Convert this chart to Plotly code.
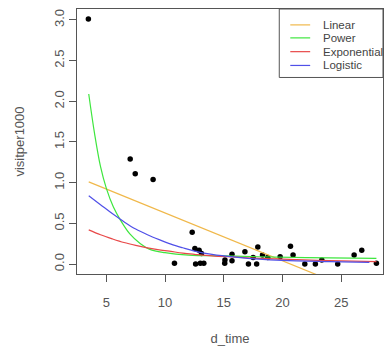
import plotly.graph_objects as go

# observed points
d_time = [3.47, 7.03, 7.46, 8.98, 10.8, 12.31, 12.54, 12.9, 13.1, 12.6, 13.0, 13.3,
          15.08, 15.1, 15.7, 15.7, 16.8, 17.1, 17.5, 17.9, 17.8, 18.3, 18.75, 19.8,
          20.68, 20.9, 21.9, 22.8, 23.35, 24.7, 26.1, 26.75, 28.0]
visitper1000 = [3.01, 1.29, 1.11, 1.04, 0.01, 0.39, 0.19, 0.17, 0.13, 0.0, 0.01, 0.01,
                0.01, 0.05, 0.12, 0.04, 0.15, 0.0, 0.08, 0.21, 0.0, 0.11, 0.08, 0.09,
                0.22, 0.11, 0.0, 0.0, 0.05, 0.0, 0.11, 0.17, 0.01]

# fitted curves
lin_x = [3.5, 28.0]
lin_y = [1.01, -0.43]

pow_x = [3.5, 4.0, 4.5, 5.0, 5.6, 6.2, 7.0, 7.9, 8.7, 10.0, 12.0, 15.0, 18.0, 22.0, 28.0]
pow_y = [2.09, 1.6, 1.2, 0.93, 0.70, 0.54, 0.37, 0.25, 0.18, 0.14, 0.11, 0.10, 0.09, 0.08, 0.07]

exp_x = [3.5, 4.5, 5.5, 6.5, 7.5, 8.5, 9.5, 10.5, 11.5, 12.5, 14.0, 16.0, 18.0, 20.0, 23.0, 28.0]
exp_y = [0.42, 0.36, 0.31, 0.265, 0.23, 0.2, 0.175, 0.155, 0.135, 0.12, 0.10, 0.085, 0.07, 0.06, 0.045, 0.03]

log_x = [3.5, 4.5, 5.5, 6.5, 7.5, 8.5, 9.5, 10.5, 11.5, 12.5, 14.0, 16.0, 18.0, 20.0, 24.0, 27.4]
log_y = [0.84, 0.73, 0.62, 0.52, 0.43, 0.36, 0.30, 0.245, 0.20, 0.16, 0.12, 0.085, 0.06, 0.045, 0.03, 0.02]

series_names = ["Linear", "Power", "Exponential", "Logistic"]
series_colors = ["#f0b84a", "#3ee63e", "#e84848", "#5050e8"]

x_ticks = [5, 10, 15, 20, 25]
y_ticks = [0.0, 0.5, 1.0, 1.5, 2.0, 2.5, 3.0]

font = "Liberation Sans, Arial, sans-serif"

fig = go.Figure()
fig.add_trace(go.Scatter(x=d_time, y=visitper1000, mode="markers",
                         marker=dict(color="black", size=5.5), showlegend=False))
curves = [(lin_x, lin_y, "linear"), (pow_x, pow_y, "spline"),
          (exp_x, exp_y, "spline"), (log_x, log_y, "spline")]
for (cx, cy, shp), nm, col in zip(curves, series_names, series_colors):
    fig.add_trace(go.Scatter(x=cx, y=cy, mode="lines", name=nm, showlegend=False,
                             line=dict(color=col, width=1.2, shape=shp)))

# legend box drawn in R style (top-right, inside the plot)
shapes = [dict(type="rect", xref="paper", yref="paper", x0=0.661, x1=1.0, y0=0.7416, y1=1.0,
               line=dict(color="#555555", width=1), fillcolor="white", layer="above")]
annotations = []
row_y = [0.940, 0.891, 0.839, 0.787]
for nm, col, ry in zip(series_names, series_colors, row_y):
    shapes.append(dict(type="line", xref="paper", yref="paper", x0=0.697, x1=0.762,
                       y0=ry, y1=ry, line=dict(color=col, width=1.2), layer="above"))
    annotations.append(dict(xref="paper", yref="paper", x=0.798, y=ry, text=nm,
                            showarrow=False, xanchor="left", yanchor="middle",
                            font=dict(family=font, size=11.5, color="#444444")))

fig.update_layout(
    width=386, height=346,
    margin=dict(l=77, r=2, t=9, b=70),
    paper_bgcolor="white", plot_bgcolor="white",
    font=dict(family=font, size=12, color="#555555"),
    showlegend=False,
    shapes=shapes, annotations=annotations,
)
fig.update_xaxes(range=[2.5, 28.56], tickvals=x_ticks, ticks="outside", ticklen=7,
                 tickcolor="#555555", showline=True, linecolor="#555555", mirror=True,
                 showgrid=False, zeroline=False, ticklabelstandoff=9,
                 title=dict(text="d_time", standoff=25, font=dict(size=13)),
                 tickfont=dict(size=13))
fig.update_yaxes(range=[-0.122, 3.134], tickvals=y_ticks, ticktext=[f"{v:.1f}" for v in y_ticks],
                 ticks="outside", ticklen=7, tickangle=-90,
                 tickcolor="#555555", showline=True, linecolor="#555555", mirror=True,
                 showgrid=False, zeroline=False,
                 title=dict(text="visitper1000", standoff=24, font=dict(size=13)),
                 tickfont=dict(size=13))

fig.write_html("out.html", post_script="document.body.style.margin='0';",
               config={"displayModeBar": False})
